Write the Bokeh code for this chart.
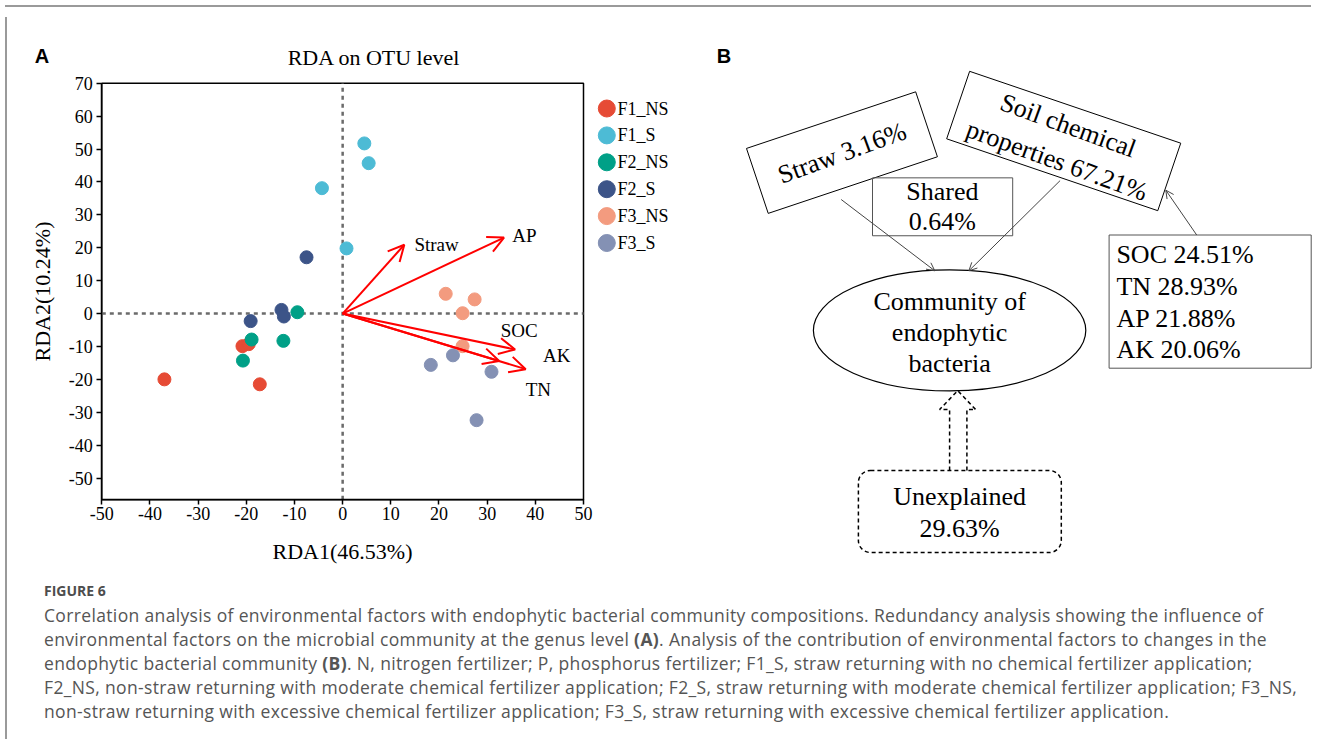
from bokeh.plotting import figure
from bokeh.models import (Range1d, FixedTicker, Arrow, OpenHead, BoxAnnotation, Div, LinearAxis,
                          PrintfTickFormatter)
from bokeh.layouts import row, column
from bokeh.core.properties import value
from bokeh.embed import file_html
from bokeh.resources import INLINE

SERIF = "Liberation Serif"
SANS = "Liberation Sans"

# ---------------- data : panel A (RDA ordination) ----------------
groups = ["F1_NS", "F1_S", "F2_NS", "F2_S", "F3_NS", "F3_S"]
group_colors = ["#E64B35", "#4DBBD5", "#00A087", "#3C5488", "#F39B7F", "#8491B4"]

f1_ns_x = [-20.8, -19.5, -37.0, -17.2]
f1_ns_y = [-9.9, -9.3, -20.0, -21.5]
f1_s_x = [4.5, 5.4, -4.3, 0.8]
f1_s_y = [51.7, 45.7, 38.1, 19.8]
f2_ns_x = [-9.4, -18.9, -12.3, -20.7]
f2_ns_y = [0.4, -7.9, -8.3, -14.3]
f2_s_x = [-7.5, -12.7, -12.2, -19.1]
f2_s_y = [17.1, 1.1, -0.9, -2.3]
f3_ns_x = [21.4, 27.4, 24.9, 24.9]
f3_ns_y = [6.0, 4.3, 0.1, -9.9]
f3_s_x = [18.3, 22.9, 30.9, 27.8]
f3_s_y = [-15.6, -12.7, -17.7, -32.4]

env_names = ["Straw", "AP", "SOC", "AK", "TN"]
env_x = [12.8, 33.5, 35.8, 32.5, 38.0]
env_y = [20.9, 23.1, -10.9, -14.4, -16.9]
env_label_x = [14.9, 35.2, 32.8, 41.6, 38.0]
env_label_y = [21.0, 23.6, -5.3, -12.6, -23.0]

x_ticks = [-50, -40, -30, -20, -10, 0, 10, 20, 30, 40, 50]
y_ticks = [-50, -40, -30, -20, -10, 0, 10, 20, 30, 40, 50, 60, 70]
x_label = "RDA1(46.53%)"
y_label = "RDA2(10.24%)"
title_a = "RDA on OTU level"

# ---------------- data : panel B (variation partitioning) ----------------
straw_pct = 3.16
soil_pct = 67.21
shared_pct = 0.64
unexplained_pct = 29.63
soil_factors = ["SOC", "TN", "AP", "AK"]
soil_factor_pct = [24.51, 28.93, 21.88, 20.06]

caption_lines = [
    "Correlation analysis of environmental factors with endophytic bacterial community compositions. Redundancy analysis showing the influence of",
    "environmental factors on the microbial community at the genus level <b>(A)</b>. Analysis of the contribution of environmental factors to changes in the",
    "endophytic bacterial community <b>(B)</b>. N, nitrogen fertilizer; P, phosphorus fertilizer; F1_S, straw returning with no chemical fertilizer application;",
    "F2_NS, non-straw returning with moderate chemical fertilizer application; F2_S, straw returning with moderate chemical fertilizer application; F3_NS,",
    "non-straw returning with excessive chemical fertilizer application; F3_S, straw returning with excessive chemical fertilizer application.",
]

group_x = [f1_ns_x, f1_s_x, f2_ns_x, f2_s_x, f3_ns_x, f3_s_x]
group_y = [f1_ns_y, f1_s_y, f2_ns_y, f2_s_y, f3_ns_y, f3_s_y]

# ---------------- layout geometry (page pixels) ----------------
FIG_L, FIG_R, FIG_T, FIG_B = 10.0, 1312.0, 10.0, 565.0
PL, PR, PT, PB = 99.3, 581.0, 80.7, 497.3        # RDA plot box
XMIN, XMAX, YMIN, YMAX = -50.0, 50.0, -56.6, 70.0

kx = (PR - PL) / (XMAX - XMIN)
ky = (PB - PT) / (YMAX - YMIN)
sx_range = Range1d(XMIN - (PL - FIG_L) / kx, XMAX + (FIG_R - PR) / kx)
sy_range = Range1d(YMIN - (FIG_B - PB) / ky, YMAX + (PT - FIG_T) / ky)


def Y(v):
    return FIG_B - v


p = figure(width=int(FIG_R - FIG_L), height=int(FIG_B - FIG_T),
           x_range=Range1d(FIG_L, FIG_R), y_range=Range1d(0, FIG_B - FIG_T),
           x_axis_location=None, y_axis_location=None, min_border=0,
           output_backend="svg", toolbar_location=None)
p.min_border_left = 0
p.min_border_right = 0
p.min_border_top = 0
p.min_border_bottom = 0
p.outline_line_color = None
p.xgrid.visible = False
p.ygrid.visible = False
p.extra_x_ranges = {"sx": sx_range}
p.extra_y_ranges = {"sy": sy_range}

# ---------------- panel A : axes ----------------
xax = LinearAxis(x_range_name="sx", y_range_name="sy", fixed_location=YMIN, bounds=(XMIN, XMAX),
                 ticker=FixedTicker(ticks=x_ticks), formatter=PrintfTickFormatter(format="%d"),
                 axis_label=x_label)
yax = LinearAxis(x_range_name="sx", y_range_name="sy", fixed_location=XMIN, bounds=(YMIN, YMAX),
                 ticker=FixedTicker(ticks=y_ticks), formatter=PrintfTickFormatter(format="%d"),
                 axis_label=y_label)
for ax in (xax, yax):
    ax.axis_line_width = 1.5
    ax.axis_line_color = "black"
    ax.major_tick_out = 5
    ax.major_tick_in = 0
    ax.major_tick_line_width = 1.5
    ax.major_tick_line_color = "black"
    ax.minor_tick_line_color = None
    ax.major_label_text_font = SERIF
    ax.major_label_text_font_size = "18px"
    ax.major_label_text_color = "black"
    ax.axis_label_text_font = SERIF
    ax.axis_label_text_font_size = "22px"
    ax.axis_label_text_font_style = "normal"
    ax.axis_label_text_color = "black"
xax.major_label_standoff = 2
yax.major_label_standoff = 4
xax.axis_label_standoff = 16
yax.axis_label_standoff = 11
p.add_layout(xax, "below")
p.add_layout(yax, "left")

# plot box
p.quad(left=[XMIN], right=[XMAX], bottom=[YMIN], top=[YMAX], x_range_name="sx", y_range_name="sy",
       fill_alpha=0, line_color="black", line_width=1.5)

# zero reference lines
p.line([0, 0], [YMIN, YMAX], x_range_name="sx", y_range_name="sy",
       line_color="#6b6b6b", line_width=2.5, line_dash="4 4")
p.line([XMIN, XMAX], [0, 0], x_range_name="sx", y_range_name="sy",
       line_color="#6b6b6b", line_width=2.5, line_dash="4 4")

for gx, gy, col in zip(group_x, group_y, group_colors):
    p.scatter(gx, gy, size=13, color=col, line_color=col, x_range_name="sx", y_range_name="sy")

for ex, ey in zip(env_x, env_y):
    p.add_layout(Arrow(x_start=0, y_start=0, x_end=ex, y_end=ey, x_range_name="sx", y_range_name="sy",
                       line_color="#FF0000", line_width=2,
                       end=OpenHead(size=16, line_color="#FF0000", line_width=2)))

p.text(env_label_x, env_label_y, text=env_names, x_range_name="sx", y_range_name="sy",
       text_font=value(SERIF), text_font_size="19px",
       text_align="left", text_baseline="middle", text_color="black")

# title and panel letters
p.text([371.6], [Y(55.0)], text=[title_a], text_font=value(SERIF), text_font_size="22px",
       text_align="center", text_baseline="middle", text_color="black")
p.text([39.5, 721.5], [Y(53.5), Y(53.5)], text=["A", "B"], text_font=value(SANS), text_font_size="20px",
       text_font_style="bold", text_align="center", text_baseline="middle", text_color="black")

# legend of panel A
leg_y = [Y(106.0 + i * 26.9) for i in range(len(groups))]
p.scatter([604.3] * len(groups), leg_y, size=17, color=group_colors, line_color=group_colors)
p.text([615.0] * len(groups), leg_y, text=groups, text_font=value(SERIF), text_font_size="18px",
       text_align="left", text_baseline="middle", text_color="black")

# ---------------- panel B ----------------
FS = "26px"
# Straw box
p.rect([839.45], [Y(150.1)], width=178.4, height=68.5, angle=18.5, angle_units="deg",
       width_units="screen", height_units="screen", fill_alpha=0, line_color="black", line_width=1)
p.text([839.5], [Y(150.5)], text=[f"Straw {straw_pct:.2f}%"], angle=20, angle_units="deg",
       text_font=value(SERIF), text_font_size=FS, text_align="center", text_baseline="middle", text_color="black")

# Soil chemical properties box
p.rect([1061.2], [Y(138.5)], width=223, height=71.3, angle=-18.8, angle_units="deg",
       width_units="screen", height_units="screen", fill_alpha=0, line_color="black", line_width=1)
p.text([1065.7, 1054.4], [Y(123.0), Y(158.1)], text=["Soil chemical", f"properties {soil_pct:.2f}%"],
       angle=-20, angle_units="deg", text_font=value(SERIF), text_font_size=FS,
       text_align="center", text_baseline="middle", text_color="black")

# Shared box
p.rect([940.1], [Y(204.3)], width=140.2, height=57.9, width_units="screen", height_units="screen",
       fill_alpha=0, line_color="#555555", line_width=1)
p.text([939.9, 939.9], [Y(189.1), Y(219.4)], text=["Shared", f"{shared_pct:.2f}%"],
       text_font=value(SERIF), text_font_size=FS, text_align="center", text_baseline="middle", text_color="black")

# thin arrows
for (x0, y0, x1, y1) in [(838.7, 197.0, 932.3, 268.3), (1057.6, 178.1, 966.4, 268.3),
                         (1194.2, 232.5, 1163.3, 187.7)]:
    p.add_layout(Arrow(x_start=x0, y_start=Y(y0), x_end=x1, y_end=Y(y1), line_color="#444444", line_width=1,
                       end=OpenHead(size=8, line_color="#444444", line_width=1)))

# community ellipse
p.ellipse([947.1], [Y(327.9)], width=272.4, height=121.2, width_units="screen", height_units="screen",
          fill_alpha=0, line_color="black", line_width=1.2)
p.text([947.1] * 3, [Y(298.6), Y(329.6), Y(360.6)], text=["Community of", "endophytic", "bacteria"],
       text_font=value(SERIF), text_font_size=FS, text_align="center", text_baseline="middle", text_color="black")

# soil factors box
p.rect([1207.65], [Y(299.1)], width=202.1, height=133.2, width_units="screen", height_units="screen",
       fill_alpha=0, line_color="#555555", line_width=1)
p.text([1113.9] * 4, [Y(252.1), Y(284.1), Y(315.8), Y(346.8)],
       text=[f"{n} {v:.2f}%" for n, v in zip(soil_factors, soil_factor_pct)],
       text_font=value(SERIF), text_font_size=FS, text_align="left", text_baseline="middle", text_color="black")

# unexplained box (dashed, rounded)
p.add_layout(BoxAnnotation(left=855.9, right=1058.8, top=Y(468.0), bottom=Y(550.0), fill_alpha=0,
                           line_color="black", line_alpha=1.0, line_width=1.5, line_dash="4 3",
                           border_radius=12))
p.text([957.2, 957.2], [Y(494.2), Y(525.9)], text=["Unexplained", f"{unexplained_pct:.2f}%"],
       text_font=value(SERIF), text_font_size=FS, text_align="center", text_baseline="middle", text_color="black")

# hollow dashed arrow
p.line([947.1, 947.1, 937.1, 955.2, 973.2, 964.4, 964.4],
       [Y(468.0), Y(407.1), Y(407.1), Y(388.1), Y(407.1), Y(407.1), Y(468.0)],
       line_color="black", line_width=1.5, line_dash="4 3")

# ---------------- caption ----------------
cap_html = (
    '<div style="font-family:\'Open Sans\',sans-serif;color:#555555;padding-left:27px;white-space:nowrap;margin:0;">'
    '<div style="font-size:14px;font-weight:700;line-height:24px;margin-top:7px;color:#4d4d4d;">FIGURE 6</div>'
    '<div style="font-size:17.5px;letter-spacing:0.35px;line-height:24px;">' + "<br>".join(caption_lines) +
    '</div></div>'
)
caption = Div(text=cap_html, width=1302, height=156)

top_strip = Div(text="", width=1306, height=2, styles={"background-color": "#9a9a9a"})
left_strip = Div(text="", width=2, height=722, styles={"background-color": "#9a9a9a"})

root = column(top_strip, row(left_strip, column(p, caption)))

open("out.html", "w").write(file_html(root, INLINE))
